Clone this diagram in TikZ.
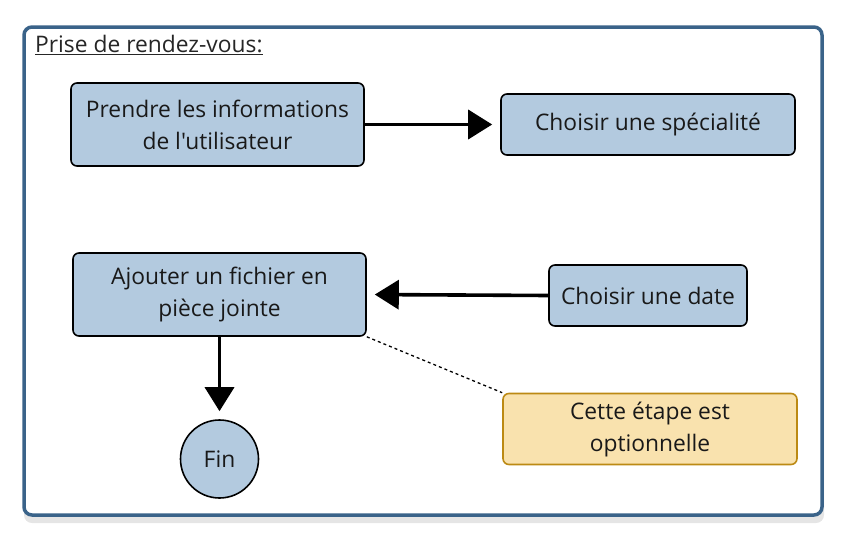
\documentclass[tikz,border=0pt]{standalone}
\usepackage{fontspec}
\setmainfont{Open Sans}[Ligatures=TeXOff]
\usetikzlibrary{arrows.meta}
\definecolor{bleu}{HTML}{B3CADF}
\definecolor{cadrebleu}{HTML}{3A6389}
\definecolor{jaune}{HTML}{F9E2AE}
\definecolor{ocre}{HTML}{BC8A14}
\begin{document}
\begin{tikzpicture}[
    x=1pt,y=-1pt,
    font=\fontsize{22.8}{32}\selectfont,
    cadre/.style={draw=cadrebleu,line width=3.5pt,rounded corners=8pt,fill=white},
    ombre/.style={fill=black!10,rounded corners=8pt},
    etape/.style={rectangle,draw=black,fill=bleu,line width=1.6pt,rounded corners=6pt,align=center,inner sep=0pt,text=black!90},
    note/.style={rectangle,draw=ocre,fill=jaune,line width=1.6pt,rounded corners=6pt,align=center,inner sep=0pt,text=black!90},
    fin/.style={circle,draw=black,fill=bleu,line width=1.6pt,minimum size=78pt,inner sep=0pt,text=black!90},
    fleche/.style={-{Triangle[length=24pt,width=29pt]},line width=3.6pt,shorten >=8pt},
    lien/.style={line width=1.3pt,dash pattern=on 3pt off 3pt},
]
	\useasboundingbox (0,0) rectangle (856,538);
	\fill[ombre] (24,32) rectangle (824,523); % ombre
	\draw[cadre] (24,27) rectangle (822,515);
	\node[anchor=north west,inner sep=0pt,text=black!85] (titre) at (35,35) {\underline{Prise de rendez-vous:}};

	\node[etape,minimum width=293pt,minimum height=83pt] (infos) at (217.5,124.5) {Prendre les informations\\de l'utilisateur};
	\node[etape,minimum width=294pt,minimum height=61pt] (specialite) at (648,124.5) {Choisir une spécialité};
	\node[etape,minimum width=293pt,minimum height=83pt] (fichier) at (219.5,294.5) {Ajouter un fichier en\\pièce jointe};
	\node[etape,minimum width=198pt,minimum height=61pt] (date) at (648,295.5) {Choisir une date};
	\node[fin] (finale) at (219.5,459) {Fin};
	\node[note,minimum width=294pt,minimum height=71pt] (optionnel) at (650,429) {Cette étape est\\optionnelle};

	\draw[fleche] (infos.east)--(specialite.west);
	\draw[fleche] (date.west)--(fichier.east);
	\draw[fleche] (fichier.south)--(finale.north);
	\draw[lien] (fichier.south east)--(optionnel.north west); % pointille
\end{tikzpicture}
\end{document}
